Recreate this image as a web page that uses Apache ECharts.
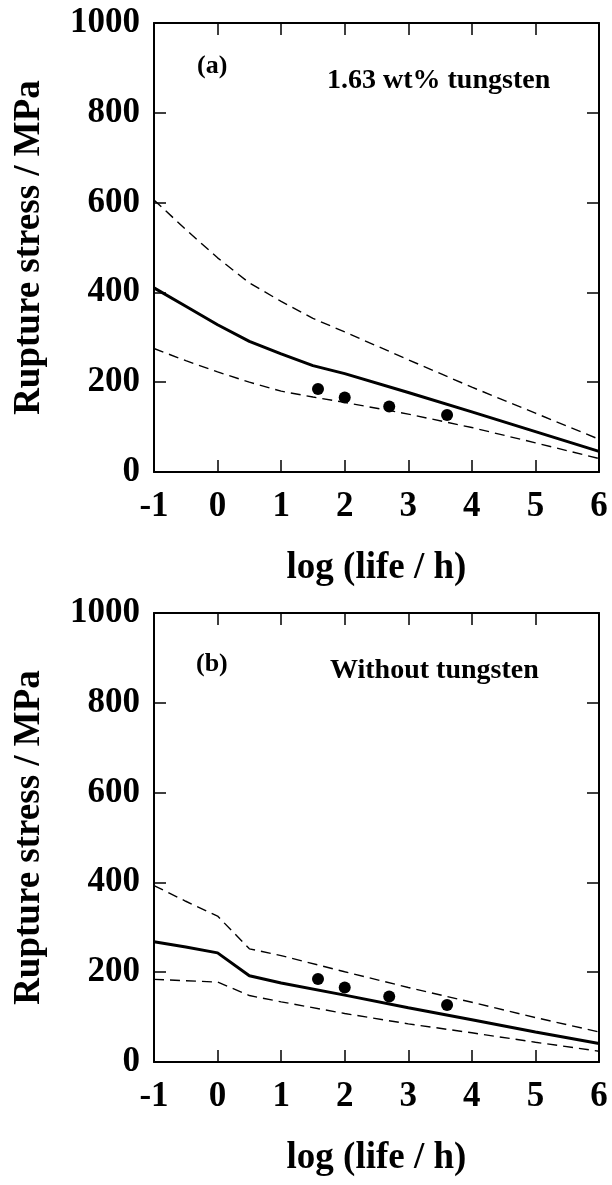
<!DOCTYPE html>
<html>
<head>
<meta charset="utf-8">
<script src="https://cdn.jsdelivr.net/npm/echarts@6/dist/echarts.min.js"></script>
<style>
html,body{margin:0;padding:0;background:#fff;}
#chart{width:612px;height:1185px;}
</style>
</head>
<body>
<div id="chart"></div>
<script>
// ---- data ----
const xTickLabels = ['-1','0','1','2','3','4','5','6'];
const yTickLabels = ['0','200','400','600','800','1000'];

// Panel (a): 1.63 wt% tungsten
const xA = [-1, -0.5, 0, 0.5, 1, 1.5, 2, 3, 4, 5, 6];
const solidA = [410, 369, 328, 291, 263, 237, 219, 177, 134, 90, 46];
const upperA = [606, 540, 477, 421, 380, 342, 312, 250, 189, 131, 73];
const lowerA = [275, 248, 223, 200, 180, 167, 155, 129, 99, 65, 30];

// Panel (b): without tungsten
const xB = [-1, -0.5, 0, 0.5, 1, 2, 3, 4, 5, 6];
const solidB = [268, 256, 243, 192, 176, 149, 121, 94, 67, 41];
const upperB = [393, 358, 325, 252, 237, 201, 166, 133, 99, 67];
const lowerB = [184, 181, 178, 148, 134, 108, 85, 65, 44, 24];

// Experimental points (same in both panels)
const dotX = [1.58, 2.0, 2.7, 3.61];
const dotY = [185, 166, 146, 127];

const panelLabels = ['(a)', '(b)'];
const panelTitles = ['1.63 wt% tungsten', 'Without tungsten'];
const xTitle = 'log (life / h)';
const yTitle = 'Rupture stress / MPa';

// ---- chart ----
const FONT = "'Liberation Serif', 'Times New Roman', serif";
const zip = (xs, ys) => xs.map((x, i) => [x, ys[i]]);

const grids = [
  {left: 154, top: 23, width: 445, height: 449},
  {left: 154, top: 613, width: 445, height: 449}
];

const xAxes = [], yAxes = [], series = [];
grids.forEach((g, gi) => {
  const base = {
    gridIndex: gi, type: 'value', min: -1, max: 6, interval: 1,
    axisLine: {show: true, onZero: false, lineStyle: {color: '#000', width: 2}},
    axisTick: {show: true, inside: true, length: 12, lineStyle: {color: '#000', width: 1.5}},
    splitLine: {show: false}
  };
  xAxes.push(Object.assign({}, base, {
    position: 'bottom',
    name: xTitle, nameLocation: 'middle', nameGap: 78,
    nameTextStyle: {fontFamily: FONT, fontWeight: 'bold', fontSize: 37, color: '#000'},
    axisLabel: {show: true, margin: 17, fontFamily: FONT, fontWeight: 'bold', fontSize: 35, color: '#000',
      formatter: v => xTickLabels[Math.round(v) + 1]}
  }));
  xAxes.push(Object.assign({}, base, {position: 'top', axisLabel: {show: false}}));
  const ybase = {
    gridIndex: gi, type: 'value', min: 0, max: 1000, interval: 200,
    axisLine: {show: true, onZero: false, lineStyle: {color: '#000', width: 2}},
    axisTick: {show: true, inside: true, length: 12, lineStyle: {color: '#000', width: 1.5}},
    splitLine: {show: false}
  };
  yAxes.push(Object.assign({}, ybase, {
    position: 'left',
    name: yTitle, nameLocation: 'middle', nameGap: 106,
    nameTextStyle: {fontFamily: FONT, fontWeight: 'bold', fontSize: 37, color: '#000'},
    axisLabel: {show: true, margin: 14, fontFamily: FONT, fontWeight: 'bold', fontSize: 35, color: '#000',
      formatter: v => yTickLabels[Math.round(v / 200)]}
  }));
  yAxes.push(Object.assign({}, ybase, {position: 'right', axisLabel: {show: false}}));
});

function lineSeries(gi, xs, ys, dashed) {
  return {
    type: 'line', xAxisIndex: gi * 2, yAxisIndex: gi * 2,
    data: zip(xs, ys), symbol: 'none', smooth: false, silent: true,
    lineStyle: dashed ? {color: '#000', width: 1.4, type: [10, 6]} : {color: '#000', width: 3}
  };
}
function dotSeries(gi) {
  return {
    type: 'scatter', xAxisIndex: gi * 2, yAxisIndex: gi * 2,
    data: zip(dotX, dotY), symbol: 'circle', symbolSize: 12,
    itemStyle: {color: '#000', opacity: 1}, silent: true
  };
}

series.push(lineSeries(0, xA, upperA, true));
series.push(lineSeries(0, xA, lowerA, true));
series.push(lineSeries(0, xA, solidA, false));
series.push(dotSeries(0));
series.push(lineSeries(1, xB, upperB, true));
series.push(lineSeries(1, xB, lowerB, true));
series.push(lineSeries(1, xB, solidB, false));
series.push(dotSeries(1));

const chart = echarts.init(document.getElementById('chart'), null, {renderer: 'canvas'});
chart.setOption({
  animation: false,
  backgroundColor: '#fff',
  grid: grids,
  xAxis: xAxes,
  yAxis: yAxes,
  series: series,
  graphic: [
    {type: 'text', x: 197, y: 66, style: {text: panelLabels[0], fontFamily: FONT, fontWeight: 'bold', fontSize: 26, fill: '#000', verticalAlign: 'middle'}},
    {type: 'text', x: 327, y: 81, style: {text: panelTitles[0], fontFamily: FONT, fontWeight: 'bold', fontSize: 28, fill: '#000', verticalAlign: 'middle'}},
    {type: 'text', x: 196, y: 664, style: {text: panelLabels[1], fontFamily: FONT, fontWeight: 'bold', fontSize: 26, fill: '#000', verticalAlign: 'middle'}},
    {type: 'text', x: 330, y: 671, style: {text: panelTitles[1], fontFamily: FONT, fontWeight: 'bold', fontSize: 28, fill: '#000', verticalAlign: 'middle'}}
  ]
});
</script>
</body>
</html>
